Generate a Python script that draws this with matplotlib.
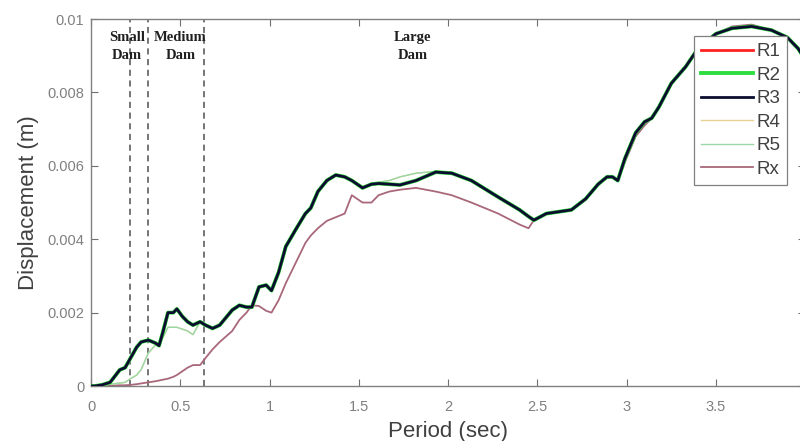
import matplotlib
matplotlib.use("Agg")
import matplotlib.pyplot as plt

period = [0.0, 0.02, 0.06, 0.106, 0.16, 0.19, 0.22, 0.255, 0.28, 0.32, 0.36, 0.38, 0.40, 0.43,
          0.46, 0.48, 0.51, 0.54, 0.57, 0.61, 0.64, 0.68, 0.72, 0.79, 0.83, 0.87, 0.90, 0.94,
          0.98, 1.01, 1.05, 1.09, 1.15, 1.20, 1.23, 1.27, 1.32, 1.37, 1.42, 1.46, 1.52, 1.57,
          1.61, 1.67, 1.73, 1.82, 1.93, 2.02, 2.13, 2.28, 2.40, 2.45, 2.48, 2.55, 2.62, 2.69,
          2.77, 2.84, 2.89, 2.92, 2.95, 2.99, 3.05, 3.10, 3.14, 3.18, 3.25, 3.33, 3.40, 3.50,
          3.59, 3.70, 3.81, 3.90, 3.96, 4.0]

disp_main = [0.0, 0.0, 0.00003, 0.0001, 0.00044, 0.0005, 0.00076, 0.00106, 0.0012, 0.00125,
             0.00117, 0.0011, 0.00144, 0.0020, 0.0020, 0.0021, 0.0019, 0.00175, 0.00166,
             0.00175, 0.00166, 0.00157, 0.00166, 0.00207, 0.0022, 0.00215, 0.00215, 0.0027,
             0.00275, 0.0026, 0.0031, 0.0038, 0.0043, 0.0047, 0.00485, 0.0053, 0.0056, 0.00575,
             0.0057, 0.0056, 0.0054, 0.0055, 0.00552, 0.0055, 0.00548, 0.0056, 0.00583, 0.0058,
             0.0056, 0.00515, 0.0048, 0.00462, 0.00452, 0.0047, 0.00475, 0.0048, 0.0051, 0.0055,
             0.0057, 0.0057, 0.0056, 0.0062, 0.0069, 0.0072, 0.0073, 0.0076, 0.00825, 0.0087,
             0.0092, 0.0096, 0.00975, 0.0098, 0.0097, 0.0095, 0.0092, 0.0089]

disp_r1 = disp_main
disp_r2 = disp_main
disp_r3 = disp_main

disp_r4 = [0.0, 0.0, 0.00002, 0.00005, 0.00008, 0.0001, 0.0002, 0.0003, 0.00045, 0.0009,
           0.00112, 0.0011, 0.0013, 0.0016, 0.0016, 0.0016, 0.00155, 0.0015, 0.0014,
           0.00175, 0.00166, 0.00157, 0.00166, 0.00207, 0.0022, 0.00215, 0.00215, 0.0027,
           0.00275, 0.0026, 0.0031, 0.0038, 0.0043, 0.0047, 0.00485, 0.0053, 0.0056, 0.00575,
           0.0057, 0.0056, 0.0054, 0.0055, 0.00555, 0.0056, 0.0057, 0.0058, 0.00585, 0.0058,
           0.0056, 0.00515, 0.0048, 0.00462, 0.00452, 0.0047, 0.00475, 0.0048, 0.0051, 0.0055,
           0.0057, 0.0057, 0.0056, 0.0062, 0.0069, 0.0072, 0.0073, 0.0076, 0.00825, 0.0087,
           0.0092, 0.0096, 0.00975, 0.0098, 0.0097, 0.0095, 0.0092, 0.0089]
disp_r5 = disp_r4

disp_rx = [0.0, 0.0, 0.0, 0.00001, 0.00002, 0.00002, 0.00003, 0.00005, 0.00007, 0.0001,
           0.00013, 0.00015, 0.00017, 0.0002, 0.00025, 0.0003, 0.0004, 0.0005, 0.00057,
           0.00057, 0.00076, 0.001, 0.0012, 0.0015, 0.0018, 0.002, 0.0022, 0.00218,
           0.00205, 0.002, 0.00234, 0.0028, 0.0034, 0.0039, 0.0041, 0.0043, 0.0045, 0.0046,
           0.0047, 0.0052, 0.0050, 0.0050, 0.0052, 0.0053, 0.00535, 0.0054, 0.0053, 0.0052,
           0.0050, 0.0047, 0.0044, 0.0043, 0.00452, 0.0047, 0.00475, 0.0048, 0.0051, 0.0055,
           0.0057, 0.0057, 0.0056, 0.0061, 0.0068, 0.0071, 0.0073, 0.0076, 0.00825, 0.0087,
           0.0092, 0.0096, 0.0098, 0.00985, 0.0097, 0.0095, 0.0092, 0.0089]

zone_lines = [0.22, 0.32, 0.63]
zone_labels = ["Small\nDam", "Medium\nDam", "Large\nDam"]
zone_label_x = [0.20, 0.50, 1.80]

fig = plt.figure(figsize=(8.0, 4.41), dpi=100)
ax = fig.add_axes([0.114, 0.1247, 0.8925, 0.832])

ax.plot(period, disp_rx, color="#a8687a", lw=1.3, label="Rx", zorder=2)
ax.plot(period, disp_r4, color="#e8d090", lw=1.0, label="R4", zorder=2)
ax.plot(period, disp_r5, color="#9ad8a8", lw=1.0, label="R5", zorder=2)
ax.plot(period, disp_r1, color="#ff2020", lw=2.0, label="R1", zorder=3)
ax.plot(period, disp_r2, color="#30dd40", lw=2.8, label="R2", zorder=3)
ax.plot(period, disp_r3, color="#0c0c30", lw=2.0, label="R3", zorder=4)

for xv in zone_lines:
    ax.axvline(xv, color="#505050", ls=(0, (4, 3)), lw=1.1, zorder=1)

for xt, txt in zip(zone_label_x, zone_labels):
    ax.text(xt, 0.00925, txt, ha="center", va="center", family="Liberation Serif",
            fontweight="bold", fontsize=10.5, color="#202020", linespacing=1.5)

ax.set_xlim(0, 4)
ax.set_ylim(0, 0.01)
ax.set_xticks([0, 0.5, 1, 1.5, 2, 2.5, 3, 3.5, 4])
ax.set_xticklabels(["0", "0.5", "1", "1.5", "2", "2.5", "3", "3.5", "4"])
ax.set_yticks([0, 0.002, 0.004, 0.006, 0.008, 0.01])
ax.set_yticklabels(["0", "0.002", "0.004", "0.006", "0.008", "0.01"])
ax.tick_params(direction="in", top=True, right=True, length=5, width=0.8,
               colors="#707070", labelsize=10.5, labelcolor="#808080", pad=5)
ax.tick_params(axis="x", pad=10)
for sp in ax.spines.values():
    sp.set_color("#808080")
    sp.set_linewidth(1.0)

ax.set_xlabel("Period (sec)", family="Liberation Sans", fontsize=16, color="#404040", labelpad=5)
ax.set_ylabel("Displacement (m)", family="Liberation Sans", fontsize=16, color="#404040", labelpad=6)
for lab in ax.get_xticklabels() + ax.get_yticklabels():
    lab.set_family("Liberation Sans")

handles, labels = ax.get_legend_handles_labels()
order = ["R1", "R2", "R3", "R4", "R5", "Rx"]
hmap = dict(zip(labels, handles))
leg = ax.legend([hmap[k] for k in order], order, loc="upper right",
                bbox_to_anchor=(0.975, 0.954), borderaxespad=0, fancybox=False,
                framealpha=1, edgecolor="#808080", handlelength=2.8, handletextpad=0.15,
                labelspacing=0.34, borderpad=0.38,
                prop={"family": "Liberation Sans", "size": 13.5})
for t in leg.get_texts():
    t.set_color("#404040")
leg.get_frame().set_linewidth(0.9)

fig.savefig("out.png", dpi=100)
